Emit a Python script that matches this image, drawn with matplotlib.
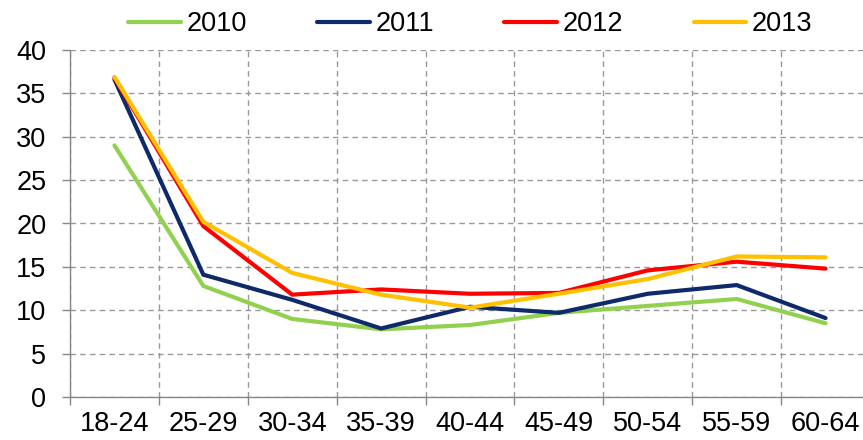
import numpy as np
import matplotlib
matplotlib.use("Agg")
import matplotlib.pyplot as plt

plt.rcParams['font.family'] = ['Liberation Sans', 'DejaVu Sans']

age_groups = ['18-24', '25-29', '30-34', '35-39', '40-44',
              '45-49', '50-54', '55-59', '60-64']
years = ['2010', '2011', '2012', '2013']

rate_2010 = [29.0, 12.8, 9.0, 7.8, 8.3, 9.7, 10.5, 11.3, 8.5]
rate_2011 = [36.6, 14.1, 11.2, 7.9, 10.4, 9.7, 11.9, 12.9, 9.1]
rate_2012 = [36.8, 19.7, 11.8, 12.4, 11.9, 12.0, 14.6, 15.6, 14.8]
rate_2013 = [36.9, 20.2, 14.3, 11.8, 10.3, 11.9, 13.6, 16.2, 16.1]

colors = ['#92D050', '#0E2A6A', '#FF0000', '#FFC000']
fs = 19.5

fig = plt.figure(figsize=(8.63, 4.40), dpi=100)
ax = fig.add_axes([70 / 863, 43 / 440, 800 / 863, 347 / 440])

x = np.arange(len(age_groups))
for series, year, c in zip([rate_2010, rate_2011, rate_2012, rate_2013], years, colors):
    ax.plot(x, series, color=c, lw=3.0, label=year, solid_capstyle='round',
            solid_joinstyle='miter')

ax.set_xlim(-0.5, len(age_groups) - 0.5)
ax.set_ylim(0, 40)
ax.set_yticks(np.arange(0, 41, 5))

# boundaries get the tick marks and grid, centres get the labels
ax.set_xticks(np.arange(-0.5, len(age_groups), 1.0))
ax.set_xticklabels([])
ax.set_xticks(x, minor=True)
ax.set_xticklabels(age_groups, minor=True)
ax.tick_params(axis='x', which='major', length=6, color='#888888', width=1)
ax.tick_params(axis='x', which='minor', length=0, pad=10, labelsize=fs)
ax.tick_params(axis='y', length=6, color='#888888', width=1, pad=11, labelsize=fs)

ax.grid(True, which='major', color='#999999', linestyle=(0, (4, 3)), linewidth=1)
ax.set_axisbelow(True)

for side in ['top', 'right']:
    ax.spines[side].set_visible(False)
for side in ['left', 'bottom']:
    ax.spines[side].set_color('#888888')
    ax.spines[side].set_linewidth(1)

fig.legend(loc='upper center', bbox_to_anchor=(0.545, 1.03), ncol=4, frameon=False,
           fontsize=fs, handlelength=1.95, handletextpad=0.2, columnspacing=2.6)

fig.savefig('out.png', dpi=100)
